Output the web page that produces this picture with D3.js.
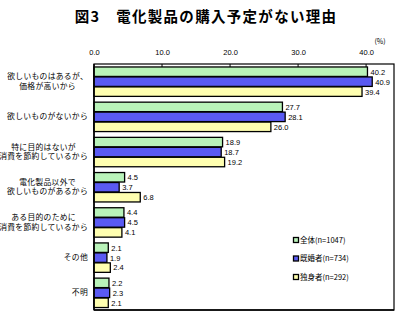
<!DOCTYPE html>
<html><head><meta charset="utf-8">
<script src="https://cdn.jsdelivr.net/npm/d3@7"></script>
<style>
html,body{margin:0;padding:0;background:#fff;}
text{font-family:"Noto Sans CJK JP","Noto Sans",sans-serif;fill:#000;}
</style></head>
<body><svg id="c" width="400" height="328"></svg>
<script>
const categories = [
  ["欲しいものはあるが、","価格が高いから"],
  ["欲しいものがないから"],
  ["特に目的はないが","消費を節約しているから"],
  ["電化製品以外で","欲しいものがあるから"],
  ["ある目的のために","消費を節約しているから"],
  ["その他"],
  ["不明"]
];
const seriesNames = ["全体(n=1047)","既婚者(n=734)","独身者(n=292)"];
const total   = [40.2, 27.7, 18.9, 4.5, 4.4, 2.1, 2.2];
const married = [40.9, 28.1, 18.7, 3.7, 4.5, 1.9, 2.3];
const single  = [39.4, 26.0, 19.2, 6.8, 4.1, 2.4, 2.1];
const colors = ["#b9f3b9","#5a5af2","#ffffb0"];
const tickValues = [0,10,20,30,40];

const svg = d3.select("#c");
const L=94, R=394, T=64, B=310;
const x = d3.scaleLinear().domain([0,44.1]).range([L,R]);
const y0 = d3.scaleBand().domain(d3.range(categories.length)).range([T,B]).paddingInner(0.15).paddingOuter(0.07);
const y1 = d3.scaleBand().domain([0,1,2]).range([0,y0.bandwidth()]);
const series = [total, married, single];

// title
svg.append("text").attr("x",206).attr("y",22).attr("text-anchor","middle")
  .attr("font-size",14.5).attr("font-weight","bold").attr("letter-spacing",1.3).text("図3　電化製品の購入予定がない理由");
svg.append("text").attr("x",380).attr("y",44).attr("text-anchor","middle").attr("font-size",7).text("(%)");

// frame
svg.append("rect").attr("x",L).attr("y",T).attr("width",R-L).attr("height",B-T)
  .attr("fill","none").attr("stroke","#000").attr("stroke-width",1.2);

// top axis
const ax = svg.append("g").attr("transform",`translate(0,${T})`)
  .call(d3.axisTop(x).tickValues(tickValues).tickFormat(d3.format(".1f")).tickSize(0).tickPadding(9));
ax.select(".domain").remove();
ax.selectAll("text").attr("font-size",7.5).style("font-family","'Liberation Sans',Arial,sans-serif");
svg.append("g").selectAll("line").data(tickValues.slice(1)).join("line")
  .attr("x1",d=>x(d)).attr("x2",d=>x(d)).attr("y1",T).attr("y2",T+3).attr("stroke","#000").attr("stroke-width",1);

// bars
const g = svg.append("g");
categories.forEach((c,i)=>{
  series.forEach((s,j)=>{
    const yy = y0(i)+y1(j);
    g.append("rect").attr("x",x(0)).attr("y",yy+0.5).attr("width",x(s[i])-x(0)).attr("height",y1.bandwidth()-0.5)
      .attr("fill",colors[j]).attr("stroke","#000").attr("stroke-width",1.3);
    g.append("text").attr("x",x(s[i])+3).attr("y",yy+y1.bandwidth()/2+0.5).attr("dy","0.35em")
      .attr("font-size",7.5).style("font-family","'Liberation Sans',Arial,sans-serif").text(s[i].toFixed(1));
  });
});
// left axis line
svg.append("line").attr("x1",L).attr("x2",L).attr("y1",T).attr("y2",B).attr("stroke","#000").attr("stroke-width",1.5);
svg.append("line").attr("x1",L).attr("x2",R).attr("y1",B).attr("y2",B).attr("stroke","#000").attr("stroke-width",1.5);

// category labels
categories.forEach((lines,i)=>{
  const cy = y0(i)+y0.bandwidth()/2;
  const lh = 9.5;
  const gt = svg.append("g");
  const ts = lines.map((t,k)=> gt.append("text").attr("font-size",7.8).attr("letter-spacing",0.3)
     .attr("y",cy+(k-(lines.length-1)/2)*lh).attr("dy","0.35em").attr("text-anchor","middle").text(t));
  const widths = ts.map(t=>t.node().getComputedTextLength());
  const w = Math.max(...widths);
  ts.forEach(t=>t.attr("x",88-w/2));
});

// legend
const lg = svg.append("g");
seriesNames.forEach((n,j)=>{
  const yy = 240+j*18.5;
  lg.append("rect").attr("x",293.5).attr("y",yy-2.5).attr("width",5).attr("height",5)
    .attr("fill",colors[j]).attr("stroke","#000").attr("stroke-width",1.3);
  lg.append("text").attr("x",300).attr("y",yy).attr("dy","0.35em").attr("font-size",7.5).text(n);
});
</script></body></html>
